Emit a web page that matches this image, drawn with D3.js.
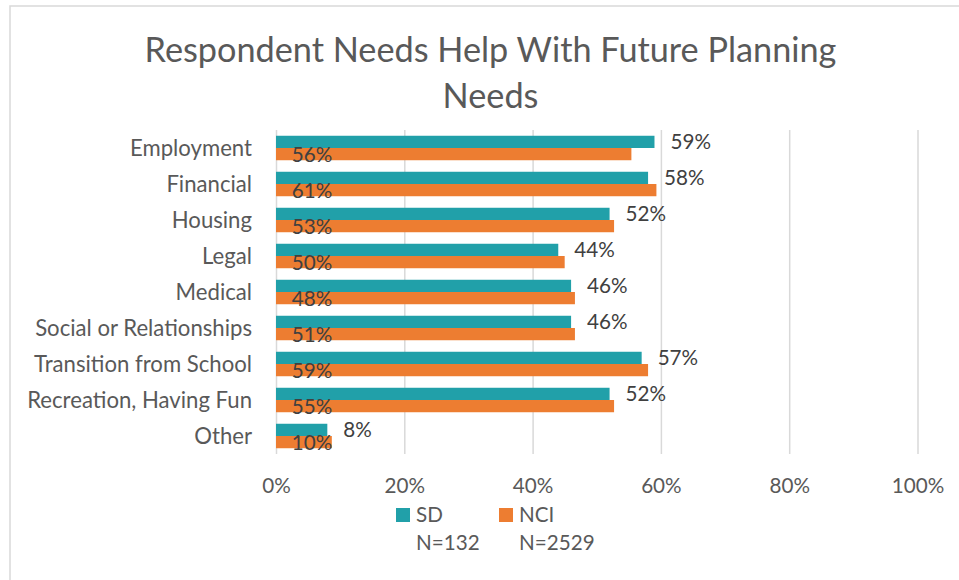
<!DOCTYPE html>
<html>
<head>
<meta charset="utf-8">
<script src="https://cdn.jsdelivr.net/npm/d3@7"></script>
<style>
  html, body { margin: 0; padding: 0; background: #fff; }
  svg { display: block; font-family: Lato, "Open Sans", sans-serif; }
</style>
</head>
<body>
<svg id="chart" width="959" height="580"></svg>
<script>
// ---- data ----
const titleLines = ["Respondent Needs Help With Future Planning", "Needs"];
const categories = ["Employment", "Financial", "Housing", "Legal", "Medical",
  "Social or Relationships", "Transition from School", "Recreation, Having Fun", "Other"];
const seriesNames = ["SD", "NCI"];
const seriesN = ["N=132", "N=2529"];
const sdValues = [59, 58, 52, 44, 46, 46, 57, 52, 8];
const sdLabels = ["59%", "58%", "52%", "44%", "46%", "46%", "57%", "52%", "8%"];
const nciValues = [55.4, 59.3, 52.7, 45, 46.6, 46.6, 58, 52.7, 8.7];
const nciLabels = ["56%", "61%", "53%", "50%", "48%", "51%", "59%", "55%", "10%"];
const xTicks = [0, 20, 40, 60, 80, 100];
const colors = ["#21a0a9", "#ed7d31"];

// ---- layout ----
const svg = d3.select("#chart");
const plot = { left: 276, right: 917.5, top: 130, bottom: 454 };
const textGray = "#595959", labelGray = "#404040";

function fitSize(textSel, targetWidth, base) {
  textSel.style("font-size", base + "px");
  const w = textSel.node().getComputedTextLength();
  return base * targetWidth / w;
}

// frame
svg.append("rect").attr("x", 10).attr("y", 6).attr("width", 980).attr("height", 600)
  .attr("fill", "none").attr("stroke", "#d9d9d9").attr("stroke-width", 1.5);

// title
const t1 = svg.append("text").attr("text-anchor", "middle").attr("x", 490.5).attr("y", 62)
  .attr("fill", textGray).text(titleLines[0]);
const titleSize = fitSize(t1, 692, 30);
t1.style("font-size", titleSize + "px");
svg.append("text").attr("text-anchor", "middle").attr("x", 490.5).attr("y", 108)
  .attr("fill", textGray).style("font-size", titleSize + "px")
  .text(titleLines[1]);

const x = d3.scaleLinear().domain([0, 100]).range([plot.left, plot.right]);
const y = d3.scaleBand().domain(categories).range([plot.top, plot.bottom])
  .paddingInner(0.32).paddingOuter(0.16);
const y1 = d3.scaleBand().domain(seriesNames).range([0, y.bandwidth()]);

// measure tick font size
const probe = svg.append("text").text("100%");
const tickSize = fitSize(probe, 52.5, 20);
probe.remove();

// x axis + gridlines
const xAxis = d3.axisBottom(x).tickValues(xTicks).tickFormat(d => d + "%")
  .tickSizeInner(-(plot.bottom - plot.top)).tickSizeOuter(0);
const gx = svg.append("g").attr("transform", `translate(0,${plot.bottom})`).call(xAxis);
gx.select(".domain").remove();
gx.selectAll(".tick line").attr("stroke", "#d9d9d9").attr("stroke-width", 1.5);
gx.selectAll(".tick text").attr("y", 39).attr("dy", null)
  .attr("fill", textGray).style("font-size", tickSize + "px")
  .style("font-family", "Lato, 'Open Sans', sans-serif");

// category labels
const probe2 = svg.append("text").text("Social or Relationships");
const catSize = fitSize(probe2, 217, 20);
probe2.remove();
svg.append("g").selectAll("text").data(categories).join("text")
  .attr("x", 252).attr("y", d => y(d) + y.bandwidth() / 2)
  .attr("dy", "0.36em").attr("text-anchor", "end")
  .attr("fill", textGray).style("font-size", catSize + "px").text(d => d);

// bars
const rows = categories.map((c, i) => ({ cat: c, SD: sdValues[i], NCI: nciValues[i],
  sdLab: sdLabels[i], nciLab: nciLabels[i] }));
const groups = svg.append("g").selectAll("g").data(rows).join("g")
  .attr("transform", d => `translate(0,${y(d.cat)})`);
seriesNames.forEach((s, si) => {
  groups.append("rect")
    .attr("x", x(0)).attr("y", y1(s))
    .attr("width", d => x(d[s]) - x(0)).attr("height", y1.bandwidth())
    .attr("fill", colors[si]);
});

// data labels
groups.append("text")
  .attr("x", d => x(d.SD) + 16).attr("y", y1("SD") + y1.bandwidth() / 2)
  .attr("dy", "0.36em").attr("fill", labelGray).style("font-size", tickSize + "px")
  .text(d => d.sdLab);
groups.append("text")
  .attr("x", x(0) + 15.7).attr("y", y1("NCI") + y1.bandwidth() / 2)
  .attr("dy", "0.36em").attr("fill", labelGray).style("font-size", tickSize + "px")
  .text(d => d.nciLab);

// legend
const legX = [396, 499];
seriesNames.forEach((s, i) => {
  svg.append("rect").attr("x", legX[i]).attr("y", 508).attr("width", 14).attr("height", 14)
    .attr("fill", colors[i]);
  svg.append("text").attr("x", legX[i] + 20).attr("y", 522)
    .attr("fill", textGray).style("font-size", tickSize + "px").text(s);
  svg.append("text").attr("x", legX[i] + 20).attr("y", 550)
    .attr("fill", textGray).style("font-size", tickSize + "px").text(seriesN[i]);
});
</script>
</body>
</html>
